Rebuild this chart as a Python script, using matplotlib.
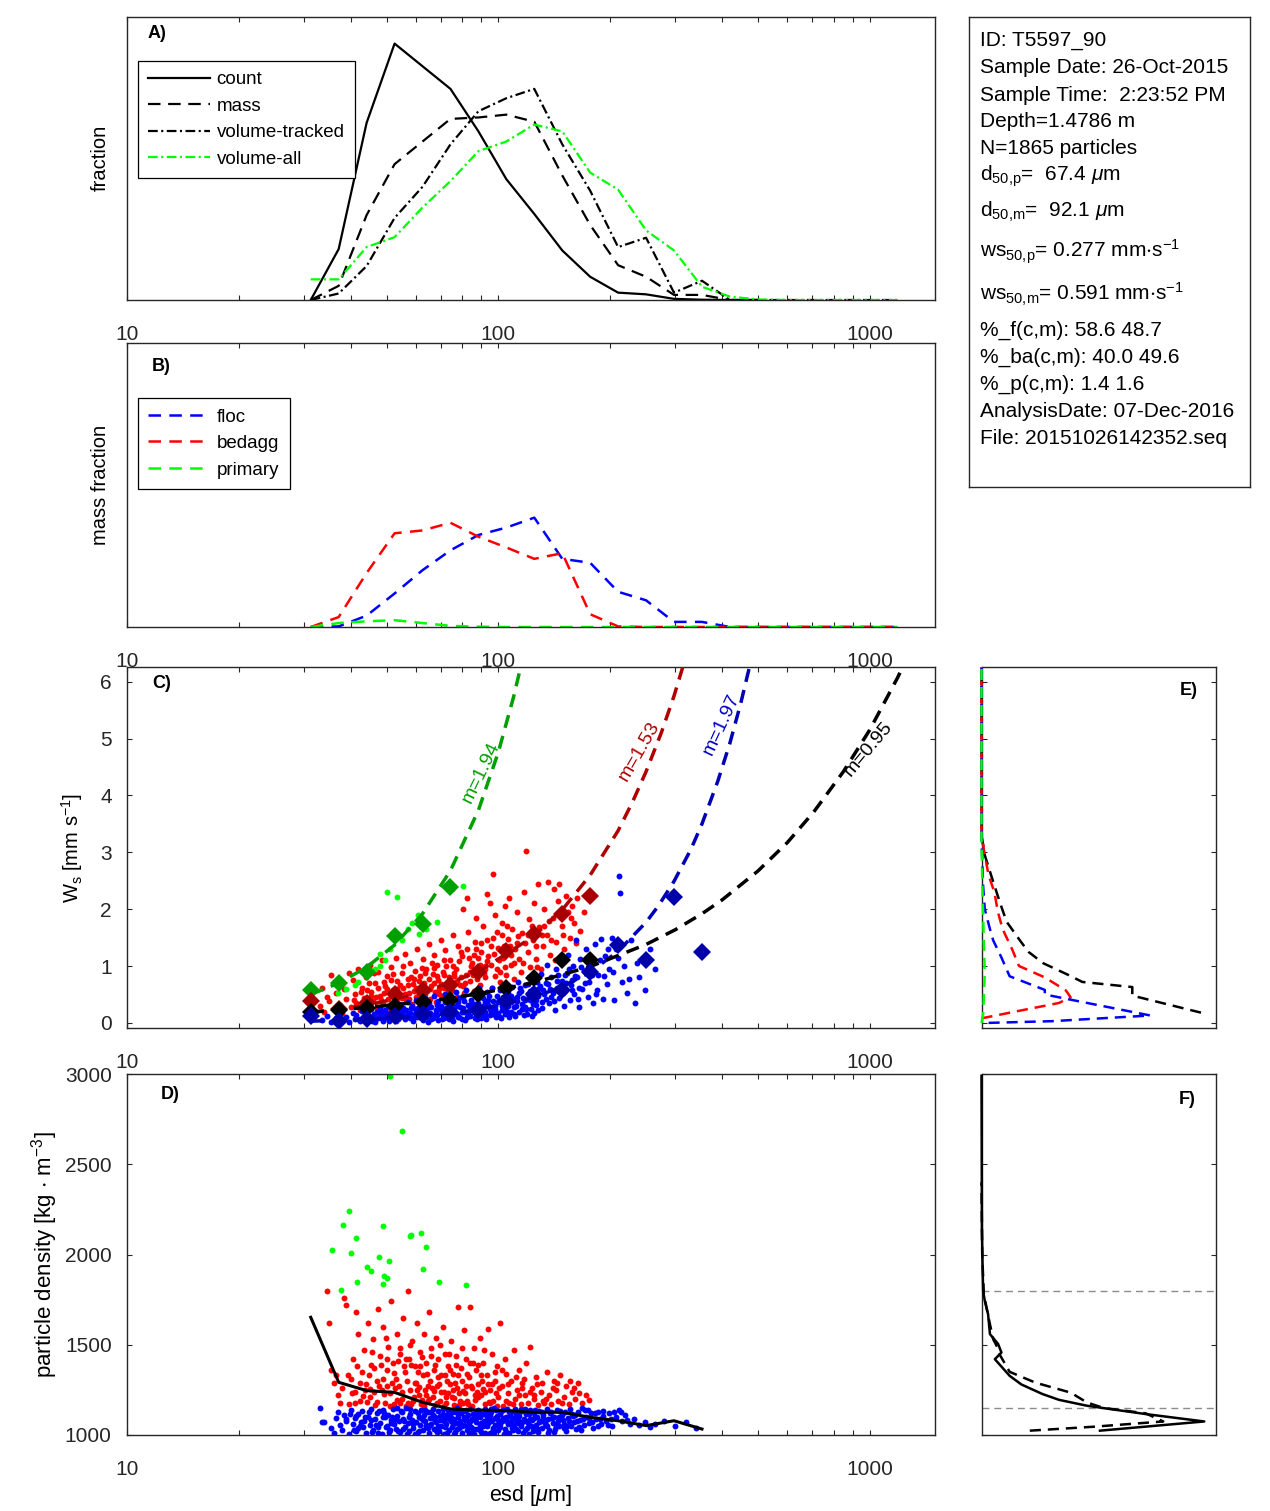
import numpy as np
import matplotlib
matplotlib.use('Agg')
import matplotlib.pyplot as plt
from matplotlib.ticker import LogLocator, NullFormatter, FixedLocator

plt.rcParams['font.family'] = ['Liberation Sans', 'DejaVu Sans']
plt.rcParams['mathtext.fontset'] = 'custom'
plt.rcParams['mathtext.rm'] = 'Liberation Sans'
plt.rcParams['mathtext.it'] = 'Liberation Sans:italic'
plt.rcParams['mathtext.bf'] = 'Liberation Sans:bold'
plt.rcParams['mathtext.default'] = 'regular'
plt.rcParams['lines.scale_dashes'] = False

AX_COL = '#262626'

# size bins in um
esd_bins = [31.25, 37.16, 44.19, 52.56, 62.5, 74.33, 88.39, 105.1, 125.0, 148.7, 176.8,
            210.2, 250.0, 297.3, 353.6, 420.4, 500.0, 594.6, 707.1, 840.9, 1000.0, 1189.0]

# A) size distributions (relative height, no scale shown)
count_frac = [0, 0.18, 0.626, 0.906, 0.826, 0.746, 0.596, 0.427, 0.304, 0.175, 0.082,
              0.026, 0.02, 0.004, 0.001, 0, 0]
mass_frac = [0, 0.05, 0.30, 0.48, 0.56, 0.64, 0.645, 0.655, 0.63, 0.44, 0.265,
             0.123, 0.082, 0.018, 0.018, 0, 0]
voltrack_frac = [0, 0.023, 0.12, 0.29, 0.40, 0.55, 0.667, 0.713, 0.746, 0.55, 0.386,
                 0.187, 0.22, 0.026, 0.068, 0, 0, 0, 0, 0, 0, 0]
volall_frac = [0.073, 0.073, 0.187, 0.222, 0.327, 0.42, 0.526, 0.56, 0.62, 0.596, 0.45,
               0.39, 0.246, 0.175, 0.047, 0.012, 0.002, 0, 0, 0, 0, 0]

# B) mass fraction per class
floc_mass = [0, 0.002, 0.04, 0.118, 0.2, 0.27, 0.324, 0.35, 0.385, 0.24, 0.226,
             0.124, 0.094, 0.018, 0.018, 0, 0, 0, 0, 0, 0, 0]
bedagg_mass = [0, 0.035, 0.19, 0.33, 0.34, 0.367, 0.318, 0.28, 0.24, 0.26, 0.045,
               0.002, 0, 0, 0, 0, 0, 0, 0, 0, 0, 0]
primary_mass = [0, 0.014, 0.02, 0.024, 0.014, 0.004, 0.001, 0, 0, 0, 0,
                0, 0, 0, 0, 0, 0, 0, 0, 0, 0, 0]

# C) settling velocity per particle (esd um, Ws mm/s)
floc_ws = [
    (33.5, 0.05), (34.5, 0.12), (35.5, 0.02), (36.5, 0.09), (37.5, 0.15), (38.0, 0.04),
    (39.0, 0.11), (39.5, 0.01), (40.5, 0.18), (41.0, 0.07), (41.5, 0.13), (42.5, 0.03),
    (43.0, 0.21), (43.5, 0.10), (44.0, 0.16), (44.5, 0.08), (45.0, 0.06), (45.5, 0.24),
    (46.0, 0.12), (46.2, 0.15), (46.5, 0.02), (47.0, 0.19), (47.5, 0.09), (48.0, 0.27),
    (48.5, 0.14), (48.8, 0.03), (49.0, 0.05), (49.5, 0.22), (50.0, 0.11), (50.5, 0.30),
    (51.0, 0.17), (51.5, 0.07), (51.8, 0.10), (52.0, 0.25), (52.5, 0.13), (53.0, 0.03),
    (53.5, 0.20), (53.8, 0.07), (54.0, 0.33), (54.5, 0.10), (55.0, 0.16), (55.5, 0.27),
    (56.0, 0.06), (56.5, 0.22), (56.8, 0.14), (57.0, 0.36), (57.5, 0.12), (58.0, 0.18),
    (58.5, 0.29), (58.8, 0.04), (59.0, 0.08), (59.5, 0.24), (60.0, 0.40), (60.5, 0.10),
    (61.0, 0.14), (61.5, 0.31), (62.0, 0.20), (62.5, 0.05), (62.8, 0.16), (63.0, 0.26),
    (63.5, 0.43), (64.0, 0.11), (64.5, 0.02), (65.0, 0.35), (65.5, 0.17), (66.0, 0.28),
    (66.5, 0.08), (66.8, 0.12), (67.0, 0.47), (68.0, 0.22), (68.5, 0.13), (68.8, 0.05),
    (69.0, 0.38), (70.0, 0.30), (70.5, 0.06), (71.0, 0.19), (71.5, 0.09), (72.0, 0.50),
    (72.5, 0.26), (73.0, 0.12), (73.5, 0.18), (74.0, 0.41), (74.5, 0.33), (75.0, 0.09),
    (75.5, 0.03), (76.0, 0.23), (77.0, 0.54), (77.5, 0.15), (78.0, 0.36), (78.5, 0.10),
    (79.0, 0.28), (80.0, 0.07), (80.5, 0.45), (81.0, 0.19), (81.5, 0.05), (82.0, 0.58),
    (83.0, 0.31), (83.5, 0.21), (84.0, 0.12), (84.5, 0.40), (85.0, 0.24), (86.0, 0.50),
    (86.5, 0.08), (87.0, 0.16), (88.0, 0.35), (88.5, 0.62), (89.0, 0.27), (89.5, 0.14),
    (90.0, 0.09), (91.0, 0.44), (92.0, 0.20), (92.5, 0.06), (93.0, 0.55), (94.0, 0.32),
    (95.0, 0.13), (95.5, 0.20), (96.0, 0.62), (97.0, 0.38), (98.0, 0.24), (98.5, 0.10),
    (99.0, 0.48), (100.0, 0.17), (101.0, 0.58), (101.5, 0.08), (102.0, 0.30), (103.0, 0.66),
    (104.0, 0.42), (104.5, 0.15), (105.0, 0.22), (106.0, 0.52), (107.0, 0.11), (108.0, 0.36),
    (108.5, 0.20), (109.0, 0.63), (110.0, 0.28), (111.0, 0.12), (112.0, 0.46), (113.0, 0.72),
    (114.0, 0.19), (115.0, 0.56), (116.0, 0.34), (117.0, 0.14), (118.0, 0.66), (119.0, 0.25),
    (120.0, 0.50), (121.0, 0.80), (122.0, 0.40), (123.0, 0.12), (124.0, 0.60), (125.0, 0.18),
    (126.0, 0.32), (127.0, 0.72), (128.0, 0.48), (130.0, 0.86), (131.0, 0.27), (132.0, 0.58),
    (134.0, 0.42), (135.0, 1.02), (136.0, 0.68), (137.0, 0.35), (139.0, 0.80), (140.0, 0.52),
    (142.0, 0.22), (143.0, 0.95), (144.0, 0.62), (146.0, 0.44), (147.0, 1.10), (148.0, 0.74),
    (150.0, 0.30), (151.0, 0.56), (153.0, 0.88), (154.0, 1.20), (156.0, 0.40), (157.0, 0.66),
    (159.0, 1.00), (160.0, 0.50), (162.0, 1.45), (163.0, 0.80), (165.0, 0.28), (166.0, 1.12),
    (168.0, 0.60), (170.0, 0.92), (172.0, 1.30), (174.0, 0.45), (176.0, 0.72), (178.0, 1.05),
    (180.0, 0.35), (182.0, 1.38), (184.0, 0.58), (186.0, 0.85), (189.0, 1.48), (191.0, 0.42),
    (194.0, 1.18), (196.0, 0.68), (199.0, 0.95), (202.0, 1.50), (205.0, 0.40), (208.0, 1.30),
    (212.0, 2.58), (213.0, 2.28), (215.0, 0.72), (218.0, 1.00), (222.0, 0.52), (228.0, 1.45),
    (234.0, 0.35), (240.0, 0.80), (248.0, 0.58), (256.0, 1.30), (265.0, 0.95),
    (42.0, 0.06), (43.8, 0.13), (45.8, 0.04), (47.8, 0.11), (49.8, 0.17), (50.8, 0.04),
    (52.8, 0.19), (54.8, 0.12), (55.8, 0.23), (57.8, 0.09), (59.8, 0.15), (60.8, 0.27),
    (61.8, 0.08), (63.8, 0.21), (64.8, 0.32), (65.8, 0.06), (67.8, 0.18), (69.8, 0.25),
    (70.8, 0.14), (71.8, 0.36), (73.8, 0.07), (74.8, 0.22), (76.8, 0.30), (77.8, 0.11),
    (79.8, 0.19), (80.8, 0.38), (82.8, 0.14), (83.8, 0.27), (85.8, 0.33), (87.8, 0.07),
    (88.8, 0.20), (90.8, 0.30), (91.8, 0.13), (93.8, 0.40), (94.8, 0.24), (96.8, 0.16),
    (97.8, 0.30), (99.8, 0.36), (100.8, 0.10), (102.8, 0.45), (103.8, 0.26), (105.8, 0.34),
    (106.8, 0.18), (109.8, 0.42), (111.8, 0.30), (113.8, 0.52), (115.8, 0.24), (117.8, 0.40),
    (119.8, 0.16), (121.8, 0.56), (123.8, 0.34), (125.8, 0.46), (127.8, 0.22), (129.8, 0.64),
    (133.0, 0.50), (138.0, 0.60), (141.0, 0.38), (145.0, 0.85), (149.0, 0.52), (152.0, 0.70),
    (155.0, 0.95), (158.0, 0.58), (161.0, 0.82), (164.0, 0.42), (167.0, 0.98), (171.0, 0.70),
    (175.0, 1.18), (179.0, 0.85), (183.0, 0.50), (188.0, 1.10), (193.0, 0.82), (198.0, 1.30),
    (204.0, 0.90), (210.0, 1.15), (225.0, 0.78), (236.0, 1.05),
    (44.2, 0.19), (46.6, 0.07), (48.4, 0.20), (50.4, 0.08), (52.2, 0.16), (54.2, 0.24),
    (56.2, 0.10), (58.2, 0.26), (60.2, 0.18), (62.2, 0.34), (64.2, 0.24), (66.2, 0.14),
    (68.2, 0.31), (70.2, 0.22), (72.2, 0.11), (74.2, 0.27), (76.2, 0.16), (78.2, 0.44),
    (80.2, 0.26), (82.2, 0.10), (84.2, 0.34), (86.2, 0.20), (88.2, 0.44), (90.2, 0.16),
    (92.2, 0.36), (94.2, 0.48), (96.2, 0.28), (98.2, 0.16), (100.2, 0.40), (102.2, 0.22),
    (104.2, 0.56), (106.2, 0.30), (108.2, 0.48), (110.2, 0.16), (112.2, 0.38), (114.2, 0.62),
    (116.2, 0.44), (118.2, 0.28), (120.2, 0.68), (122.2, 0.24), (124.2, 0.50), (126.2, 0.40),
    (128.2, 0.60), (131.5, 0.36), (134.5, 0.70), (139.0, 0.46), (144.0, 0.74), (151.0, 0.84),
    (158.0, 0.76), (165.0, 0.62),
]
bedagg_ws = [
    (33.0, 0.30), (33.5, 0.62), (34.0, 0.20), (34.5, 0.45), (35.0, 0.38), (35.5, 0.85),
    (36.0, 0.25), (36.5, 0.52), (37.0, 0.70), (37.5, 0.32), (38.0, 0.18), (38.5, 0.60),
    (39.0, 0.42), (39.5, 0.88), (40.0, 0.28), (40.5, 0.75), (41.0, 0.50), (41.5, 0.35),
    (42.0, 0.95), (42.5, 0.22), (43.0, 0.62), (43.5, 0.44), (44.0, 0.80), (44.2, 0.58),
    (44.5, 0.30), (45.0, 1.02), (45.5, 0.55), (46.0, 0.38), (46.5, 0.70), (46.8, 0.46),
    (47.0, 0.25), (47.5, 0.90), (48.0, 0.48), (48.5, 1.10), (49.0, 0.33), (49.2, 0.72),
    (49.5, 0.65), (50.0, 0.82), (50.5, 0.42), (51.0, 0.27), (51.2, 0.52), (51.5, 0.98),
    (52.0, 0.58), (52.5, 0.36), (53.0, 1.15), (53.2, 0.60), (53.5, 0.74), (54.0, 0.46),
    (54.5, 0.30), (55.0, 0.88), (55.2, 0.44), (55.5, 0.62), (56.0, 1.22), (56.5, 0.40),
    (57.0, 0.78), (57.2, 0.66), (57.5, 0.52), (58.0, 1.05), (58.5, 0.34), (59.0, 0.68),
    (59.2, 0.56), (59.5, 0.92), (60.0, 0.45), (60.5, 1.30), (61.0, 0.58), (61.2, 0.74),
    (61.5, 0.82), (62.0, 0.38), (62.5, 1.12), (63.0, 0.70), (63.2, 0.62), (63.5, 0.50),
    (64.0, 0.95), (65.0, 1.38), (65.2, 0.78), (65.5, 0.42), (66.0, 0.64), (66.5, 0.86),
    (67.0, 1.20), (67.2, 0.70), (67.5, 0.55), (68.0, 0.36), (68.5, 1.02), (69.0, 0.76),
    (69.2, 0.60), (70.0, 1.45), (70.5, 0.48), (71.0, 0.90), (71.2, 0.84), (71.5, 0.62),
    (72.0, 1.28), (73.0, 0.40), (73.2, 0.66), (73.5, 0.80), (74.0, 1.10), (75.0, 0.58),
    (75.5, 1.55), (76.0, 0.70), (76.2, 0.88), (77.0, 0.95), (77.5, 0.45), (78.0, 1.35),
    (79.0, 0.66), (79.2, 0.80), (80.0, 1.18), (80.5, 2.00), (81.0, 0.52), (82.0, 0.85),
    (82.5, 2.19), (83.0, 1.60), (84.0, 0.74), (84.2, 1.00), (85.0, 1.05), (86.0, 0.56),
    (86.5, 1.42), (87.0, 1.85), (88.0, 0.92), (88.2, 1.15), (89.0, 0.66), (90.0, 1.25),
    (91.0, 1.70), (92.0, 0.80), (92.2, 1.00), (93.0, 2.27), (93.5, 1.08), (95.0, 2.10),
    (96.0, 0.62), (96.5, 2.62), (97.0, 1.50), (98.0, 1.90), (99.0, 0.95), (100.0, 1.32),
    (101.0, 0.72), (102.0, 1.75), (103.0, 1.15), (104.0, 2.05), (105.0, 0.85), (106.0, 1.48),
    (107.0, 2.19), (108.0, 1.02), (109.0, 1.65), (110.0, 0.78), (111.0, 1.30), (112.0, 1.95),
    (114.0, 1.12), (115.0, 0.90), (116.0, 1.58), (117.0, 2.30), (119.0, 3.02), (120.0, 1.25),
    (121.0, 1.82), (122.0, 0.98), (124.0, 1.45), (125.0, 2.10), (126.0, 1.12), (128.0, 2.45),
    (129.0, 1.68), (130.0, 0.95), (132.0, 1.35), (133.0, 2.00), (135.0, 1.55), (136.0, 2.48),
    (138.0, 1.20), (140.0, 1.85), (141.0, 2.35), (143.0, 1.42), (145.0, 2.15), (146.0, 2.45),
    (148.0, 1.70), (150.0, 1.30), (152.0, 2.24), (154.0, 1.95), (156.0, 1.50), (158.0, 2.05),
    (160.0, 1.75), (163.0, 2.20), (166.0, 1.62), (170.0, 1.95),
    (40.8, 0.40), (42.8, 0.55), (44.8, 0.70), (46.4, 0.88), (48.2, 0.40), (50.2, 0.60),
    (52.2, 0.86), (54.2, 0.66), (56.2, 0.50), (58.2, 0.80), (60.2, 0.62), (62.2, 0.96),
    (64.2, 0.56), (66.2, 1.05), (68.2, 0.82), (70.2, 0.68), (72.2, 1.00), (74.2, 0.52),
    (75.8, 0.82), (78.2, 1.08), (80.2, 0.64), (82.2, 1.30), (83.8, 0.90), (85.8, 1.20),
    (87.8, 0.78), (89.8, 1.40), (91.8, 0.95), (94.0, 1.18), (95.8, 1.35), (97.8, 0.82),
    (100.5, 1.10), (102.5, 1.55), (104.5, 0.98), (107.5, 1.35), (110.5, 1.05), (113.0, 1.52),
    (118.0, 1.40), (123.0, 1.70), (127.0, 0.98), (131.0, 1.55), (137.0, 1.80), (142.0, 1.10),
    (149.0, 1.55), (157.0, 1.85), (162.0, 1.40),
    (43.6, 0.36), (45.3, 0.48), (47.3, 0.62), (49.3, 0.52), (51.3, 0.76), (53.3, 0.44),
    (55.3, 1.00), (57.3, 0.42), (59.3, 0.78), (61.3, 0.50), (63.3, 0.88), (65.3, 0.60),
    (67.3, 0.96), (69.3, 0.50), (71.3, 1.10), (73.3, 0.56), (75.3, 1.00), (77.3, 0.74),
    (79.3, 1.25), (81.3, 0.70), (83.3, 1.15), (85.3, 0.85), (87.3, 1.30), (89.3, 1.02),
    (91.3, 0.88), (93.3, 1.45), (95.3, 1.02), (97.3, 1.22), (99.3, 1.60), (101.3, 0.90),
    (103.3, 1.35), (105.3, 1.70), (108.3, 1.20), (112.3, 1.40), (116.3, 1.05), (120.3, 1.55),
    (126.3, 1.35), (133.0, 1.70), (139.0, 1.45), (146.0, 1.95),
]
primary_ws = [
    (50.0, 2.30), (53.5, 2.22), (80.4, 2.41), (60.6, 1.89), (68.5, 1.78), (57.0, 1.66),
    (61.0, 1.56), (48.0, 1.22), (49.6, 1.10), (48.0, 1.00), (44.5, 0.84), (41.0, 0.66),
    (37.0, 0.52), (42.0, 0.72), (46.5, 0.95), (55.0, 1.45), (52.0, 1.55), (58.5, 1.75),
    (75.0, 2.35), (64.0, 1.65), (39.0, 0.60), (51.0, 1.30),
]

# C) bin means (diamonds)
primary_ws_mean = [0.58, 0.71, 0.90, 1.52, 1.74, 2.39]
bedagg_ws_mean = [0.39, 0.25, 0.35, 0.50, 0.58, 0.67, 0.90, 1.26, 1.57, 1.92, 2.24]
all_ws_mean = [0.20, 0.22, 0.26, 0.30, 0.37, 0.41, 0.50, 0.61, 0.79, 1.10, 1.10]
floc_ws_mean = [0.12, 0.03, 0.06, 0.12, 0.15, 0.20, 0.23, 0.38, 0.50, 0.58, 0.90, 1.37, 1.10, 2.21, 1.25]

# C) fitted power-law curves
primary_fit_esd = [31.25, 37.16, 44.19, 52.56, 62.5, 74.33, 88.39, 100.0, 110.0, 117.0]
primary_fit_ws = [0.50, 0.70, 0.98, 1.37, 1.92, 2.68, 3.74, 4.76, 5.74, 6.48]
bedagg_fit_esd = [31.25, 44.19, 62.5, 88.39, 125.0, 150.0, 176.8, 210.2, 230.0, 250.0, 275.0, 297.3, 320.0]
bedagg_fit_ws = [0.18, 0.31, 0.53, 0.90, 1.53, 2.02, 2.60, 3.38, 3.89, 4.42, 5.11, 5.75, 6.44]
floc_fit_esd = [31.25, 44.19, 62.5, 88.39, 125.0, 150.0, 176.8, 210.2, 250.0, 270.0, 297.3, 330.0,
                353.6, 390.0, 420.4, 450.0, 480.0]
floc_fit_ws = [0.03, 0.06, 0.115, 0.23, 0.45, 0.65, 0.89, 1.26, 1.77, 2.06, 2.49, 3.05,
               3.50, 4.25, 4.92, 5.63, 6.39]
all_fit_esd = [31.25, 44.19, 62.5, 88.39, 125.0, 176.8, 250.0, 300.0, 353.6, 400.0, 500.0,
               600.0, 707.1, 850.0, 1000.0, 1189.0, 1250.0]
all_fit_ws = [0.19, 0.27, 0.37, 0.51, 0.71, 0.99, 1.38, 1.64, 1.92, 2.16, 2.67,
              3.17, 3.71, 4.42, 5.15, 6.07, 6.37]

# D) particle density (esd um, kg/m3)
floc_rho = [
    (33.0, 1148), (33.5, 1070), (34.0, 1072), (35.5, 1040), (36.0, 1012), (36.5, 1095),
    (37.0, 1128), (37.5, 1055), (38.0, 1030), (38.5, 1110), (39.0, 1078), (39.5, 1005),
    (40.0, 1140), (40.5, 1062), (41.0, 1092), (41.5, 1022), (42.0, 1118), (42.5, 1048),
    (43.0, 1135), (43.5, 1080), (44.0, 1010), (44.5, 1100), (45.0, 1058), (45.5, 1145),
    (46.0, 1030), (46.5, 1088), (47.0, 1122), (47.5, 1042), (48.0, 1068), (48.5, 1008),
    (49.0, 1138), (49.5, 1098), (50.0, 1052), (50.5, 1112), (51.0, 1025), (51.5, 1082),
    (52.0, 1142), (52.5, 1060), (53.0, 1035), (53.5, 1105), (54.0, 1075), (54.5, 1015),
    (55.0, 1128), (55.5, 1090), (56.0, 1045), (56.5, 1148), (57.0, 1065), (57.5, 1020),
    (58.0, 1115), (58.5, 1085), (59.0, 1038), (59.5, 1132), (60.0, 1072), (60.5, 1005),
    (61.0, 1098), (61.5, 1055), (62.0, 1140), (62.5, 1028), (63.0, 1110), (63.5, 1078),
    (64.0, 1048), (64.5, 1125), (65.0, 1012), (65.5, 1092), (66.0, 1062), (66.5, 1145),
    (67.0, 1035), (67.5, 1102), (68.0, 1070), (68.5, 1018), (69.0, 1135), (69.5, 1085),
    (70.0, 1050), (71.0, 1118), (71.5, 1008), (72.0, 1095), (72.5, 1060), (73.0, 1140),
    (73.5, 1030), (74.0, 1108), (74.5, 1075), (75.0, 1042), (75.5, 1128), (76.0, 1090),
    (76.5, 1015), (77.0, 1065), (77.5, 1148), (78.0, 1100), (78.5, 1038), (79.0, 1080),
    (79.5, 1122), (80.0, 1010), (81.0, 1058), (81.5, 1135), (82.0, 1092), (82.5, 1025),
    (83.0, 1112), (83.5, 1068), (84.0, 1145), (84.5, 1045), (85.0, 1088), (86.0, 1005),
    (86.5, 1120), (87.0, 1072), (87.5, 1035), (88.0, 1138), (89.0, 1098), (89.5, 1055),
    (90.0, 1018), (91.0, 1115), (91.5, 1080), (92.0, 1142), (93.0, 1048), (93.5, 1102),
    (94.0, 1065), (95.0, 1012), (95.5, 1128), (96.0, 1085), (97.0, 1040), (97.5, 1148),
    (98.0, 1095), (99.0, 1058), (100.0, 1025), (101.0, 1118), (102.0, 1075), (103.0, 1138),
    (104.0, 1035), (105.0, 1100), (106.0, 1062), (107.0, 1010), (108.0, 1125), (109.0, 1085),
    (110.0, 1045), (111.0, 1145), (112.0, 1070), (113.0, 1020), (114.0, 1108), (115.0, 1052),
    (116.0, 1132), (117.0, 1090), (118.0, 1030), (119.0, 1115), (120.0, 1068), (121.0, 1008),
    (122.0, 1140), (123.0, 1082), (124.0, 1042), (125.0, 1122), (126.0, 1058), (127.0, 1098),
    (128.0, 1015), (129.0, 1135), (130.0, 1075), (131.0, 1038), (132.0, 1110), (134.0, 1055),
    (135.0, 1145), (136.0, 1088), (137.0, 1025), (138.0, 1120), (140.0, 1065), (141.0, 1100),
    (142.0, 1035), (144.0, 1138), (145.0, 1078), (146.0, 1048), (148.0, 1112), (150.0, 1060),
    (151.0, 1130), (152.0, 1022), (154.0, 1092), (156.0, 1145), (157.0, 1050), (159.0, 1105),
    (160.0, 1072), (162.0, 1035), (164.0, 1125), (166.0, 1085), (168.0, 1148), (170.0, 1055),
    (172.0, 1100), (175.0, 1068), (178.0, 1120), (180.0, 1040), (183.0, 1090), (186.0, 1130),
    (189.0, 1062), (192.0, 1105), (195.0, 1080), (199.0, 1122), (203.0, 1050), (207.0, 1098),
    (211.0, 1140), (215.0, 1075), (220.0, 1110), (226.0, 1060), (232.0, 1088), (240.0, 1055),
    (248.0, 1072), (256.0, 1045), (265.0, 1060), (280.0, 1075), (300.0, 1050), (320.0, 1070),
    (340.0, 1040),
    (38.8, 1090), (40.8, 1025), (42.8, 1072), (44.8, 1130), (46.8, 1055), (48.8, 1100),
    (50.8, 1018), (52.8, 1088), (54.8, 1132), (56.8, 1008), (58.8, 1062), (60.8, 1120),
    (62.8, 1085), (64.8, 1038), (66.8, 1110), (68.8, 1052), (70.8, 1142), (72.8, 1012),
    (74.8, 1095), (76.8, 1128), (78.8, 1062), (80.8, 1102), (82.8, 1045), (84.8, 1015),
    (86.8, 1082), (88.8, 1125), (90.8, 1048), (92.8, 1078), (94.8, 1110), (96.8, 1025),
    (98.8, 1138), (100.8, 1062), (102.8, 1092), (104.8, 1015), (106.8, 1130), (108.8, 1040),
    (110.8, 1100), (112.8, 1068), (114.8, 1142), (116.8, 1010), (118.8, 1080), (120.8, 1118),
    (122.8, 1050), (124.8, 1095), (127.8, 1032), (130.8, 1125), (133.5, 1068), (136.5, 1012),
    (139.5, 1092), (143.0, 1055), (147.0, 1132), (149.5, 1085), (153.0, 1048), (158.0, 1118),
    (163.0, 1075), (167.0, 1028), (171.0, 1138), (176.0, 1092), (182.0, 1120), (188.0, 1090),
    (197.0, 1058), (205.0, 1128),
    (41.3, 1108), (43.3, 1045), (45.3, 1085), (47.3, 1010), (49.3, 1120), (51.3, 1065),
    (53.3, 1148), (55.3, 1032), (57.3, 1098), (59.3, 1072), (61.3, 1020), (63.3, 1138),
    (65.3, 1058), (67.3, 1090), (69.3, 1022), (71.3, 1078), (73.3, 1115), (75.3, 1062),
    (77.3, 1032), (79.3, 1140), (81.3, 1085), (83.3, 1005), (85.3, 1118), (87.3, 1092),
    (89.3, 1030), (91.3, 1060), (93.3, 1130), (95.3, 1075), (97.3, 1010), (99.3, 1105),
    (101.3, 1045), (103.3, 1085), (105.3, 1145), (107.3, 1068), (109.3, 1028), (111.3, 1118),
    (113.3, 1082),
    (39.8, 1118), (41.8, 1038), (43.8, 1098), (45.8, 1015), (47.8, 1132), (49.8, 1045),
    (51.8, 1102), (53.8, 1022), (55.8, 1080), (57.8, 1142), (59.8, 1008), (61.8, 1095),
    (63.8, 1055), (65.8, 1128), (67.8, 1028), (69.8, 1108), (71.8, 1042), (73.8, 1088),
    (75.8, 1005), (77.8, 1115), (79.8, 1050), (81.8, 1138), (83.8, 1075), (85.8, 1032),
    (87.8, 1105), (89.8, 1068), (91.8, 1010), (93.8, 1092), (95.8, 1145), (97.8, 1058),
    (99.8, 1082), (101.8, 1132), (103.8, 1005), (105.8, 1078), (107.8, 1108), (109.8, 1058),
    (111.8, 1035), (113.8, 1125), (115.8, 1072), (117.8, 1145), (119.8, 1040), (121.8, 1088),
    (123.8, 1020), (125.8, 1140), (128.8, 1070), (132.0, 1095), (135.5, 1048), (138.5, 1130),
    (141.5, 1018), (145.5, 1100), (150.5, 1040), (155.0, 1080), (161.0, 1110), (165.0, 1045),
    (169.0, 1090), (174.0, 1140), (179.0, 1070), (185.0, 1050), (192.0, 1135), (201.0, 1090),
    (214.0, 1128), (222.0, 1085),
]
bedagg_rho = [
    (34.5, 1800), (35.0, 1620), (35.5, 1360), (36.0, 1290), (36.5, 1330), (37.0, 1220),
    (37.5, 1180), (38.0, 1260), (38.5, 1760), (39.0, 1720), (39.5, 1170), (40.0, 1310),
    (40.5, 1420), (41.0, 1240), (41.2, 1175), (41.5, 1680), (42.0, 1560), (42.5, 1190),
    (43.0, 1350), (43.2, 1215), (43.5, 1470), (44.0, 1280), (44.5, 1620), (44.8, 1330),
    (45.0, 1210), (45.2, 1255), (45.5, 1390), (46.0, 1530), (46.2, 1370), (46.5, 1165),
    (47.0, 1300), (47.2, 1185), (47.5, 1700), (48.0, 1440), (48.5, 1250), (48.8, 1310),
    (49.0, 1600), (49.2, 1225), (49.5, 1180), (50.0, 1360), (50.2, 1420), (50.5, 1490),
    (51.0, 1230), (51.2, 1160), (51.5, 1740), (52.0, 1400), (52.5, 1170), (52.8, 1260),
    (53.0, 1310), (53.2, 1195), (53.5, 1560), (54.0, 1270), (54.2, 1480), (54.5, 1450),
    (55.0, 1200), (55.2, 1240), (55.5, 1650), (56.0, 1350), (56.5, 1160), (56.8, 1300),
    (57.0, 1800), (57.2, 1175), (57.5, 1420), (58.0, 1250), (58.2, 1390), (58.5, 1520),
    (59.0, 1190), (59.2, 1210), (59.5, 1380), (60.0, 1290), (60.5, 1620), (60.8, 1350),
    (61.0, 1220), (61.2, 1265), (61.5, 1460), (62.0, 1170), (62.2, 1430), (62.5, 1330),
    (63.0, 1560), (63.2, 1160), (63.5, 1250), (64.0, 1400), (64.5, 1190), (64.8, 1270),
    (65.0, 1680), (65.2, 1200), (65.5, 1300), (66.0, 1480), (66.5, 1210), (67.0, 1360),
    (67.2, 1245), (67.5, 1165), (68.0, 1540), (68.5, 1270), (68.8, 1320), (69.0, 1420),
    (69.2, 1280), (69.5, 1190), (70.0, 1330), (71.0, 1600), (71.2, 1160), (71.5, 1240),
    (72.0, 1450), (72.5, 1175), (72.8, 1300), (73.0, 1380), (73.2, 1230), (74.0, 1280),
    (74.5, 1520), (75.0, 1210), (75.5, 1340), (76.0, 1165), (76.2, 1205), (76.8, 1390),
    (77.0, 1440), (77.5, 1260), (78.0, 1710), (78.2, 1165), (79.0, 1190), (79.5, 1370),
    (80.0, 1300), (80.2, 1245), (81.0, 1580), (81.5, 1230), (82.0, 1420), (82.2, 1190),
    (83.0, 1170), (83.5, 1320), (84.0, 1710), (85.0, 1260), (85.2, 1160), (86.0, 1480),
    (86.5, 1195), (87.0, 1360), (88.0, 1280), (88.2, 1210), (89.0, 1540), (90.0, 1220),
    (91.0, 1400), (91.2, 1255), (92.0, 1170), (93.0, 1330), (94.0, 1590), (95.0, 1250),
    (95.2, 1175), (96.0, 1450), (97.0, 1190), (98.0, 1300), (99.0, 1380), (99.2, 1160),
    (100.0, 1210), (101.0, 1620), (102.0, 1270), (103.0, 1160), (104.0, 1420), (105.0, 1340),
    (106.0, 1230), (107.0, 1180), (108.0, 1300), (110.0, 1470), (111.0, 1200), (112.0, 1250),
    (114.0, 1360), (115.0, 1170), (116.0, 1290), (118.0, 1220), (119.0, 1400), (120.0, 1180),
    (122.0, 1490), (123.0, 1260), (125.0, 1200), (126.0, 1320), (128.0, 1165), (130.0, 1240),
    (131.0, 1290), (133.0, 1180), (135.0, 1350), (137.0, 1220), (139.0, 1170), (141.0, 1300),
    (143.0, 1250), (145.0, 1190), (147.0, 1330), (150.0, 1210), (152.0, 1270), (155.0, 1170),
    (158.0, 1240), (161.0, 1200), (164.0, 1290), (168.0, 1180), (172.0, 1220), (175.0, 1195),
    (40.3, 1230), (42.3, 1290), (44.3, 1185), (46.3, 1240), (48.3, 1390), (50.3, 1270),
    (52.3, 1345), (54.3, 1180), (56.3, 1420), (58.3, 1170), (60.3, 1250), (62.3, 1195),
    (64.3, 1340), (66.3, 1260), (68.3, 1180), (70.3, 1240), (72.3, 1210), (74.3, 1360),
    (76.3, 1290), (78.3, 1230), (80.3, 1180), (82.3, 1340), (84.3, 1270), (86.3, 1220),
    (88.3, 1390), (90.3, 1300), (92.3, 1240), (94.3, 1185), (96.3, 1280), (98.3, 1230),
    (102.5, 1360), (106.5, 1280), (109.5, 1170), (113.5, 1220), (117.5, 1310), (121.5, 1240),
    (127.5, 1280), (134.0, 1200), (140.0, 1260), (148.0, 1180), (156.0, 1300), (165.0, 1230),
    (45.7, 1460), (49.7, 1540), (53.7, 1410), (57.7, 1500), (61.7, 1380), (65.7, 1440),
    (69.7, 1500), (73.7, 1450), (79.7, 1480), (85.7, 1400), (91.7, 1470),
    (39.3, 1330), (41.7, 1380), (43.7, 1250), (47.7, 1270), (51.7, 1290), (55.7, 1380),
    (59.7, 1290), (63.7, 1220), (67.7, 1390), (71.7, 1330), (75.7, 1250), (77.7, 1330),
    (81.7, 1270), (83.7, 1400), (87.7, 1240), (89.7, 1330), (93.7, 1280), (97.7, 1350),
    (100.7, 1260), (104.7, 1190), (111.7, 1320), (115.7, 1260), (124.7, 1220), (131.7, 1190),
    (144.0, 1290), (160.0, 1260),
]
primary_rho = [
    (51.2, 2991), (55.0, 2682), (39.6, 2243), (38.2, 2163), (48.9, 2157), (57.7, 2104),
    (58.2, 2108), (62.0, 2121), (35.6, 2027), (41.5, 2090), (40.0, 2008), (63.7, 2043),
    (47.7, 1984), (50.7, 1964), (44.3, 1929), (45.5, 1907), (62.5, 1918), (49.2, 1880),
    (50.3, 1870), (49.0, 1836), (41.6, 1846), (69.4, 1846), (82.0, 1833), (37.8, 1803),
]
# D) mean density per size bin
mean_rho = [1652, 1292, 1246, 1236, 1181, 1144, 1138, 1135, 1126, 1126, 1098, 1079, 1052, 1079, 1033]

# E) Ws distributions (relative frequency, Ws mm/s)
all_ws_dist = [(0.936, 0.18), (0.643, 0.48), (0.643, 0.63), (0.43, 0.72), (0.377, 0.83),
               (0.263, 1.05), (0.20, 1.25), (0.164, 1.45), (0.107, 1.78), (0.08, 2.1),
               (0.05, 2.48), (0.014, 2.95), (0.0, 3.3), (0.0, 6.26)]
bedagg_ws_dist = [(0.0, 0.08), (0.17, 0.22), (0.33, 0.35), (0.38, 0.45), (0.36, 0.57),
                  (0.27, 0.80), (0.16, 1.0), (0.13, 1.3), (0.09, 1.65), (0.07, 1.95),
                  (0.055, 2.3), (0.03, 2.6), (0.01, 3.05), (0.0, 3.35), (0.0, 6.26)]
floc_ws_dist = [(0.03, 0.0), (0.30, 0.03), (0.72, 0.13), (0.39, 0.40), (0.27, 0.50),
                (0.27, 0.58), (0.12, 0.82), (0.085, 1.15), (0.05, 1.45), (0.036, 1.65),
                (0.014, 2.0), (0.007, 2.4), (0.003, 2.9), (0.0, 3.2), (0.0, 6.26)]
primary_ws_dist = [(0.0, 0.0), (0.007, 0.15), (0.014, 0.9), (0.01, 1.37), (0.007, 1.9),
                   (0.004, 2.36), (0.0, 3.2), (0.0, 6.26)]

# F) density distributions (relative frequency, kg/m3)
rho_dist_count = [(0.505, 1024), (0.95, 1075), (0.70, 1116), (0.45, 1162), (0.33, 1195),
                  (0.26, 1227), (0.17, 1280), (0.12, 1328), (0.057, 1420), (0.085, 1457),
                  (0.071, 1504), (0.036, 1559), (0.028, 1670), (0.014, 1743), (0.007, 1799),
                  (0.004, 1965), (0.0015, 2149), (0.001, 2518), (0.0, 2990)]
rho_dist_mass = [(0.206, 1024), (0.48, 1046), (0.775, 1075), (0.70, 1120), (0.52, 1150),
                 (0.45, 1180), (0.38, 1235), (0.23, 1290), (0.12, 1350), (0.08, 1440),
                 (0.07, 1480), (0.05, 1530), (0.03, 1650), (0.01, 1780), (0.003, 2000),
                 (0.0, 2400)]
rho_limits = [1150, 1800]

info_lines = [
    'ID: T5597_90',
    'Sample Date: 26-Oct-2015',
    'Sample Time:  2:23:52 PM',
    'Depth=1.4786 m',
    'N=1865 particles',
    r'd$_{50{,}p}$=  67.4 $\mathit{\mu}$m',
    r'd$_{50{,}m}$=  92.1 $\mathit{\mu}$m',
    r'ws$_{50{,}p}$= 0.277 mm$\cdot$s$^{-1}$',
    r'ws$_{50{,}m}$= 0.591 mm$\cdot$s$^{-1}$',
    '%_f(c,m): 58.6 48.7',
    '%_ba(c,m): 40.0 49.6',
    '%_p(c,m): 1.4 1.6',
    'AnalysisDate: 07-Dec-2016',
    'File: 20151026142352.seq',
]

W, H = 1270, 1511
fig = plt.figure(figsize=(W / 100, H / 100), dpi=100)


def px_axes(left, top, right, bottom):
    return fig.add_axes([left / W, 1 - bottom / H, (right - left) / W, (bottom - top) / H])


def style(ax, xlog=True):
    for s in ax.spines.values():
        s.set_color(AX_COL)
        s.set_linewidth(1.0)
    ax.tick_params(which='both', direction='in', top=True, right=True,
                   length=3.6, width=0.8, color=AX_COL, labelcolor=AX_COL, labelsize=15)
    ax.tick_params(axis='x', pad=18)
    ax.tick_params(axis='y', pad=11)
    if xlog:
        ax.set_xscale('log')
        ax.set_xlim(10, 1500)
        ax.xaxis.set_major_locator(FixedLocator([10, 100, 1000]))
        ax.set_xticklabels(['10', '100', '1000'])
        ax.xaxis.set_minor_locator(LogLocator(base=10, subs=np.arange(2, 10), numticks=20))
        ax.xaxis.set_minor_formatter(NullFormatter())


def panel_label(ax, s, x, y):
    ax.text(x, y, s, transform=ax.transAxes, fontsize=13, fontweight='bold',
            ha='center', va='center', color='black')


def fig_text(x, y, s, **kw):
    fig.text(x / W, 1 - y / H, s, **kw)


def add_legend(ax, top):
    leg = ax.legend(loc='upper left', bbox_to_anchor=(0.0136, top), borderaxespad=0,
                    fancybox=False, framealpha=1, edgecolor='black', fontsize=13.5,
                    handlelength=3.3, handletextpad=0.35, labelspacing=0.5, borderpad=0.55)
    leg.get_frame().set_linewidth(0.9)


# ---- A
axA = px_axes(127, 17, 935, 300)
style(axA)
n = len(count_frac)
axA.plot(esd_bins[:n], count_frac, color='black', lw=1.6, label='count')
axA.plot(esd_bins[:n], mass_frac, color='black', lw=1.6, dashes=(9, 5.5), label='mass')
axA.plot(esd_bins, voltrack_frac, color='black', lw=1.6, dashes=(7, 2.5, 1.5, 2.5),
         label='volume-tracked')
axA.plot(esd_bins, volall_frac, color='#00FF00', lw=1.6, dashes=(7, 2.5, 1.5, 2.5),
         label='volume-all')
axA.set_ylim(0, 1)
axA.set_yticks([])
add_legend(axA, 0.845)
panel_label(axA, 'A)', 0.037, 0.943)

# ---- B
axB = px_axes(127, 343, 935, 627)
style(axB)
axB.plot(esd_bins, floc_mass, color='#0000FF', lw=1.8, dashes=(9, 6), label='floc')
axB.plot(esd_bins, bedagg_mass, color='#FF0000', lw=1.8, dashes=(9, 6), label='bedagg')
axB.plot(esd_bins, primary_mass, color='#00FF00', lw=1.8, dashes=(9, 6), label='primary')
axB.set_ylim(0, 1)
axB.set_yticks([])
add_legend(axB, 0.806)
panel_label(axB, 'B)', 0.042, 0.919)

# ---- C
axC = px_axes(127, 667, 935, 1028)
style(axC)
axC.set_ylim(-0.09, 6.26)
axC.set_yticks(range(7))
for pts, col in ((bedagg_ws, '#FF0000'), (floc_ws, '#0000FF'), (primary_ws, '#00FF00')):
    x, y = np.array(pts).T
    axC.scatter(x, y, s=18, color=col, linewidths=0, zorder=2)

fits = [
    (primary_fit_esd, primary_fit_ws, '#00A000'),
    (bedagg_fit_esd, bedagg_fit_ws, '#B00000'),
    (floc_fit_esd, floc_fit_ws, '#0000B4'),
    (all_fit_esd, all_fit_ws, 'black'),
]
for fx, fy, col in fits:
    axC.plot(fx, fy, color=col, lw=2.5, dashes=(9.5, 6), zorder=3)

means = [
    (primary_ws_mean, '#00A000'),
    (bedagg_ws_mean, '#A80000'),
    (all_ws_mean, 'black'),
    (floc_ws_mean, '#0000A8'),
]
for vals, col in means:
    axC.plot(esd_bins[:len(vals)], vals, ls='none', marker='D', ms=9, color=col,
             markeredgewidth=0, zorder=4)

axC.text(89.7, 4.4, 'm=1.94', color='#00A000', fontsize=14, rotation=64,
         ha='center', va='center', rotation_mode='anchor')
axC.text(240, 4.77, 'm=1.53', color='#B00000', fontsize=14, rotation=60,
         ha='center', va='center', rotation_mode='anchor')
axC.text(398, 5.25, 'm=1.97', color='#0000C8', fontsize=14, rotation=65,
         ha='center', va='center', rotation_mode='anchor')
axC.text(989, 4.81, 'm=0.95', color='black', fontsize=14, rotation=50,
         ha='center', va='center', rotation_mode='anchor')
panel_label(axC, 'C)', 0.043, 0.953)

# ---- D
axD = px_axes(127, 1074, 935, 1435)
style(axD)
axD.set_ylim(1000, 3000)
axD.set_yticks([1000, 1500, 2000, 2500, 3000])
for pts, col in ((bedagg_rho, '#FF0000'), (floc_rho, '#0000FF'), (primary_rho, '#00FF00')):
    x, y = np.array(pts).T
    axD.scatter(x, y, s=18, color=col, linewidths=0, zorder=2)
axD.plot(esd_bins[:len(mean_rho)], mean_rho, color='black', lw=2.2, zorder=3)
panel_label(axD, 'D)', 0.053, 0.942)

# ---- E
axE = px_axes(981.5, 667, 1216, 1028)
style(axE, xlog=False)
axE.set_xlim(0, 1)
axE.set_ylim(-0.09, 6.26)
axE.set_xticks([])
axE.set_yticks(range(7))
axE.set_yticklabels([])
for pts, col in ((all_ws_dist, 'black'), (bedagg_ws_dist, '#FF0000'),
                 (floc_ws_dist, '#0000FF'), (primary_ws_dist, '#00FF00')):
    x, y = np.array(pts).T
    axE.plot(x, y, color=col, lw=1.8, dashes=(8, 5), clip_on=False, zorder=3)
panel_label(axE, 'E)', 0.885, 0.936)

# ---- F
axF = px_axes(981.5, 1074, 1216, 1435)
style(axF, xlog=False)
axF.set_xlim(0, 1)
axF.set_ylim(1000, 3000)
axF.set_xticks([])
axF.set_yticks([1000, 1500, 2000, 2500, 3000])
axF.set_yticklabels([])
for lim in rho_limits:
    axF.axhline(lim, color='#8C8C8C', lw=1.0, dashes=(5, 3.5))
x, y = np.array(rho_dist_count).T
axF.plot(x, y, color='black', lw=1.8, clip_on=False, zorder=3)
x, y = np.array(rho_dist_mass).T
axF.plot(x, y, color='black', lw=1.8, dashes=(8, 5), clip_on=False, zorder=3)
panel_label(axF, 'F)', 0.876, 0.928)

# ---- info box
axT = px_axes(969, 17, 1250, 487)
axT.set_xticks([])
axT.set_yticks([])
for s in axT.spines.values():
    s.set_color(AX_COL)
    s.set_linewidth(1.0)
baselines = [46, 73, 101, 127, 154, 181, 217, 258, 300, 336, 363, 390, 417, 444]
for line, yb in zip(info_lines, baselines):
    fig_text(980, yb, line, fontsize=15, ha='left', va='baseline', color='black')

# ---- axis labels
fig_text(100, 158, 'fraction', fontsize=14.5, rotation=90, ha='center', va='center')
fig_text(100, 485, 'mass fraction', fontsize=14.5, rotation=90, ha='center', va='center')
fig_text(72, 848, r'W$_s$ [mm s$^{-1}$]', fontsize=14.5, rotation=90, ha='center', va='center')
fig_text(45, 1255, r'particle density [kg $\cdot$ m$^{-3}$]', fontsize=16, rotation=90,
         ha='center', va='center')
fig_text(530, 1495, r'esd [$\mathit{\mu}$m]', fontsize=15.5, ha='center', va='center')

fig.savefig('out.png', dpi=100)
